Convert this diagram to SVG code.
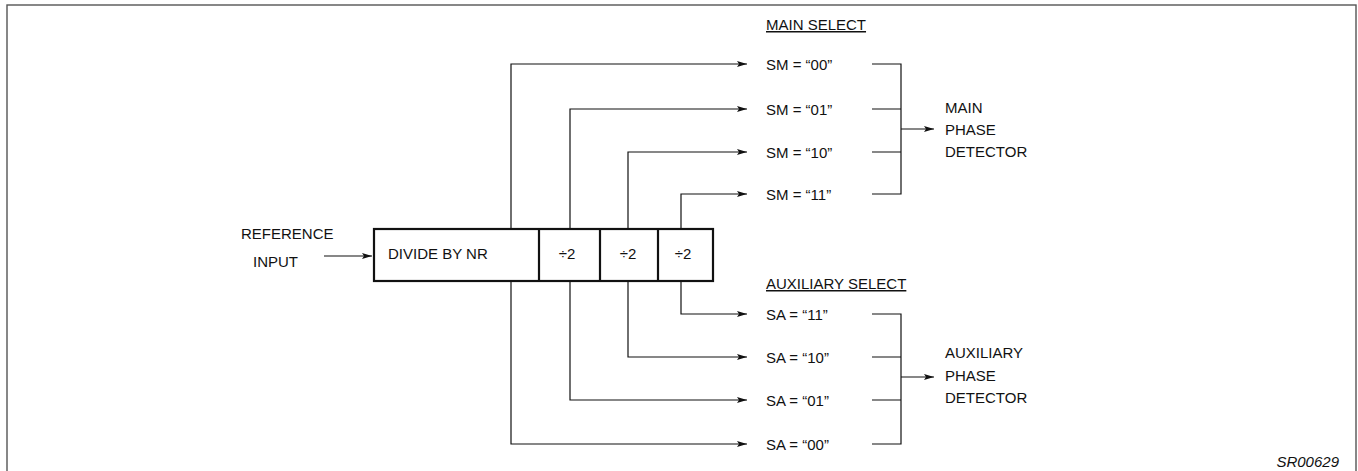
<svg xmlns="http://www.w3.org/2000/svg" width="1358" height="471" viewBox="0 0 1358 471">
<style>
text{font-family:"Liberation Sans",Arial,sans-serif;font-size:15px;fill:#111}
.ln{fill:none;stroke:#111;stroke-width:1.2}
.ar{fill:none;stroke:#111;stroke-width:1.2;marker-end:url(#ah)}
.bx{fill:#fff;stroke:#111;stroke-width:2.2}
.c{text-anchor:middle}
</style>
<defs>
<marker id="ah" viewBox="0 0 10 6" refX="10" refY="3" markerWidth="10" markerHeight="6" markerUnits="userSpaceOnUse" orient="auto">
<path d="M0,0 L10,3 L0,6 L2,3 z" fill="#111"/>
</marker>
</defs>
<rect x="7" y="5" width="1349" height="475" fill="none" stroke="#555" stroke-width="1.4"/>
<g id="connectors">
<path class="ar" d="M324,256 H372"/>
<path class="ar" d="M511,229 V64 H747"/>
<path class="ar" d="M570,229 V109 H747"/>
<path class="ar" d="M628,229 V152 H747"/>
<path class="ar" d="M681,229 V194 H747"/>
<path class="ar" d="M681,281 V314 H747"/>
<path class="ar" d="M628,281 V357 H747"/>
<path class="ar" d="M570,281 V400 H747"/>
<path class="ar" d="M511,281 V444 H747"/>
<path class="ln" d="M872,64 H901 V194 H872 M872,109 H901 M872,152 H901"/>
<path class="ar" d="M901,129 H934"/>
<path class="ln" d="M872,314 H901 V444 H872 M872,357 H901 M872,400 H901"/>
<path class="ar" d="M901,377 H934"/>
</g>
<g id="ref-input">
<text x="241" y="239">REFERENCE</text>
<text x="253" y="267">INPUT</text>
</g>
<g id="divider">
<rect class="bx" x="374" y="229" width="339" height="52"/>
<line class="bx" x1="539" y1="229" x2="539" y2="281"/>
<line class="bx" x1="600" y1="229" x2="600" y2="281"/>
<line class="bx" x1="658" y1="229" x2="658" y2="281"/>
<text x="388" y="259">DIVIDE BY NR</text>
<text class="c" x="567" y="259">÷2</text>
<text class="c" x="628" y="259">÷2</text>
<text class="c" x="683" y="259">÷2</text>
</g>
<g id="main-select">
<text x="766" y="30" text-decoration="underline">MAIN SELECT</text>
<text x="766" y="70">SM = “00”</text>
<text x="766" y="115">SM = “01”</text>
<text x="766" y="158">SM = “10”</text>
<text x="766" y="200">SM = “11”</text>
</g>
<g id="main-pd">
<text x="945" y="113">MAIN</text>
<text x="945" y="135">PHASE</text>
<text x="945" y="157">DETECTOR</text>
</g>
<g id="aux-select">
<text x="766" y="289" text-decoration="underline">AUXILIARY SELECT</text>
<text x="766" y="320">SA = “11”</text>
<text x="766" y="363">SA = “10”</text>
<text x="766" y="406">SA = “01”</text>
<text x="766" y="450">SA = “00”</text>
</g>
<g id="aux-pd">
<text x="945" y="358">AUXILIARY</text>
<text x="945" y="381">PHASE</text>
<text x="945" y="403">DETECTOR</text>
</g>
<text x="1339" y="467" style="font-style:italic;text-anchor:end">SR00629</text>
</svg>
